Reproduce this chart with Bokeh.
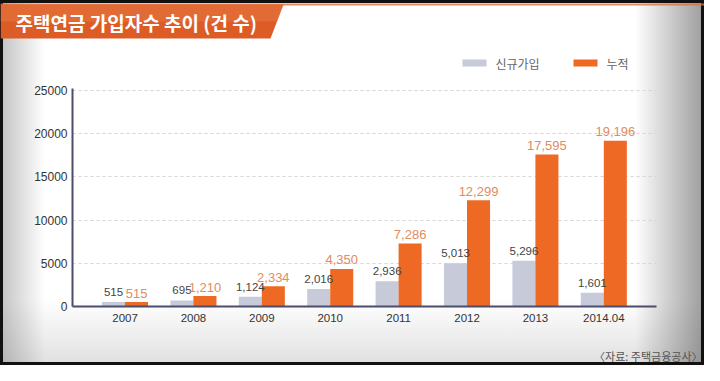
from bokeh.plotting import figure
from bokeh.layouts import column, row
from bokeh.models import (Range1d, FixedTicker, Label, PolyAnnotation, BoxAnnotation,
                          ColumnDataSource)
from bokeh.core.properties import value
from bokeh.embed import file_html
from bokeh.resources import INLINE

categories = ["2007", "2008", "2009", "2010", "2011", "2012", "2013", "2014.04"]
new_subscribers = [515, 695, 1124, 2016, 2936, 5013, 5296, 1601]
cumulative = [515, 1210, 2334, 4350, 7286, 12299, 17595, 19196]
y_ticks = [0, 5000, 10000, 15000, 20000, 25000]

title_text = "주택연금 가입자수 추이 (건 수)"
legend_new = "신규가입"
legend_cum = "누적"
source_text = "〈자료: 주택금융공사〉"

KR = "Noto Sans CJK KR"
NUM = "Liberation Sans"
GRAY = "#c6cad9"
ORANGE = "#ee6a24"

W = 704


def clear(fig):
    fig.border_fill_alpha = 0
    fig.background_fill_alpha = 0
    fig.outline_line_color = None


def box(fig, l, r, b, t, color, alpha=1.0):
    fig.add_layout(BoxAnnotation(left=l, right=r, bottom=b, top=t,
                                 left_units="screen", right_units="screen",
                                 bottom_units="screen", top_units="screen",
                                 fill_color=color, fill_alpha=alpha, line_color=None))


# ---------------- header: banner + legend ----------------
header = figure(width=W, height=80, output_backend="svg", toolbar_location=None,
                x_range=Range1d(0, 1), y_range=Range1d(0, 1),
                x_axis_type=None, y_axis_type=None, min_border=0)
clear(header)
header.xgrid.grid_line_color = None
header.ygrid.grid_line_color = None

box(header, 0, W, 75, 77, "#d9703f", 0.8)
header.add_layout(PolyAnnotation(xs=[0, 283, 270, 0], ys=[76, 76, 42, 42],
                                 xs_units="screen", ys_units="screen",
                                 fill_color="#dd5c26", fill_alpha=1, line_color=None))
header.add_layout(PolyAnnotation(xs=[0, 283, 276.5, 0], ys=[76, 76, 59, 59],
                                 xs_units="screen", ys_units="screen",
                                 fill_color="#f08a55", fill_alpha=0.3, line_color=None))
header.add_layout(Label(x=15, y=58, x_units="screen", y_units="screen", text=title_text,
                        text_font=KR, text_font_style="bold", text_font_size="19px",
                        text_color="white", text_baseline="middle", text_align="left"))

# legend
box(header, 462, 486, 14, 21, GRAY)
box(header, 573, 597, 14, 21, ORANGE)
header.add_layout(Label(x=495, y=17, x_units="screen", y_units="screen", text=legend_new,
                        text_font=KR, text_font_size="12px", text_color="#666666",
                        text_baseline="middle", text_align="left"))
header.add_layout(Label(x=606, y=17, x_units="screen", y_units="screen", text=legend_cum,
                        text_font=KR, text_font_size="12px", text_color="#666666",
                        text_baseline="middle", text_align="left"))

# ---------------- main chart ----------------
idx = list(range(len(categories)))
off = 0.168
bw = 0.337
src = ColumnDataSource(dict(
    x_new=[i - off for i in idx],
    x_cum=[i + off for i in idx],
    new=new_subscribers,
    cum=cumulative,
    new_lbl=[f"{v:,}" for v in new_subscribers],
    cum_lbl=[f"{v:,}" for v in cumulative],
))

p = figure(width=W, height=255, output_backend="svg", toolbar_location=None,
           x_range=Range1d(-0.768, 7.77), y_range=Range1d(0, 25250),
           min_border_left=72, min_border_right=48, min_border_top=8, min_border_bottom=29)
clear(p)

p.vbar(x="x_new", top="new", width=bw, source=src, fill_color=GRAY, line_color=None)
p.vbar(x="x_cum", top="cum", width=bw, source=src, fill_color=ORANGE, line_color=None)

p.text(x="x_new", y="new", text="new_lbl", source=src, text_align="center",
       text_baseline="alphabetic", y_offset=-10, text_font=value(NUM),
       text_font_size="11.5px", text_color="#444444")
p.text(x="x_cum", y="cum", text="cum_lbl", source=src, text_align="center",
       text_baseline="alphabetic", y_offset=-9, text_font=value(NUM),
       text_font_size="13px", text_color="#df8c62")

p.xaxis.ticker = FixedTicker(ticks=idx)
p.xaxis.major_label_overrides = {i: c for i, c in zip(idx, categories)}
p.yaxis.ticker = FixedTicker(ticks=y_ticks)
for ax in (p.xaxis, p.yaxis):
    ax.axis_line_color = "#4c4c6c"
    ax.axis_line_width = 2
    ax.major_tick_line_color = None
    ax.minor_tick_line_color = None
    ax.major_tick_out = 0
    ax.major_tick_in = 0
    ax.minor_tick_out = 0
    ax.major_label_text_font = NUM
    ax.major_label_text_color = "#333333"
p.yaxis.major_label_text_font_size = "12px"
p.xaxis.major_label_text_font_size = "11.5px"
p.yaxis.major_label_standoff = 5
p.xaxis.major_label_standoff = 7
p.yaxis.formatter.use_scientific = False

p.xgrid.grid_line_color = None
p.ygrid.grid_line_color = "#d5d5d5"
p.ygrid.grid_line_dash = "3 3"

# ---------------- footer: source note ----------------
footer = figure(width=W, height=30, output_backend="svg", toolbar_location=None,
                x_range=Range1d(0, 1), y_range=Range1d(0, 1),
                x_axis_type=None, y_axis_type=None, min_border=0)
clear(footer)
footer.xgrid.grid_line_color = None
footer.ygrid.grid_line_color = None
footer.add_layout(Label(x=702, y=10, x_units="screen", y_units="screen", text=source_text,
                        text_font=KR, text_font_size="11px", text_color="#555555",
                        text_baseline="middle", text_align="right"))

layout = column(row(header), row(p), row(footer), spacing=0)
layout.styles = {
    "background": ("linear-gradient(to right, rgba(120,120,120,0.45) 0px, "
                   "rgba(255,255,255,0) 45px, rgba(255,255,255,0) 635px, "
                   "rgba(90,90,90,0.6) 704px), "
                   "linear-gradient(to bottom, rgba(255,255,255,0) 300px, "
                   "rgba(150,150,150,0.3) 365px), #ffffff"),
    "box-shadow": "inset 0 0 0 3px #111111",
}

open("out.html", "w").write(file_html(layout, INLINE))
